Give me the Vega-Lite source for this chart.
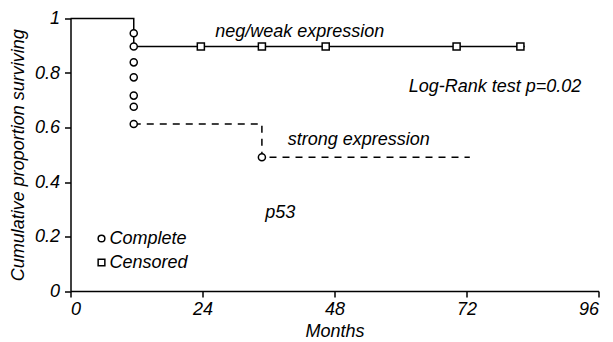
{
  "$schema": "https://vega.github.io/schema/vega-lite/v6.json",
  "width": 528,
  "height": 272.5,
  "autosize": {"type": "none"},
  "padding": {"left": 70.5, "top": 18.5, "right": 14.5, "bottom": 51},
  "background": "white",
  "config": {
    "view": {"stroke": null},
    "font": "Liberation Sans",
    "axis": {
      "grid": false,
      "domainColor": "black",
      "domainWidth": 1.5,
      "tickColor": "black",
      "tickWidth": 1.5,
      "tickSize": 6,
      "labelFont": "Liberation Sans",
      "labelFontStyle": "italic",
      "labelFontSize": 18,
      "labelColor": "black",
      "titleFont": "Liberation Sans",
      "titleFontStyle": "italic",
      "titleFontWeight": "normal",
      "titleFontSize": 18,
      "titleColor": "black"
    }
  },
  "datasets": {
    "lines": [
      {"g": "neg/weak", "s": "n1", "o": 1, "m": 0, "v": 1},
      {"g": "neg/weak", "s": "n1", "o": 2, "m": 11.5, "v": 1},
      {"g": "neg/weak", "s": "n1", "o": 3, "m": 11.5, "v": 0.897},
      {"g": "neg/weak", "s": "n1", "o": 4, "m": 82.6, "v": 0.897},
      {"g": "strong", "s": "s2", "o": 1, "m": 11.5, "v": 0.613},
      {"g": "strong", "s": "s2", "o": 2, "m": 34.8, "v": 0.613},
      {"g": "strong", "s": "s2", "o": 3, "m": 34.8, "v": 0.491},
      {"g": "strong", "s": "s2", "o": 4, "m": 72.6, "v": 0.491}
    ],
    "points": [
      {"type": "Complete", "m": 11.5, "v": 0.946},
      {"type": "Complete", "m": 11.5, "v": 0.897},
      {"type": "Complete", "m": 11.5, "v": 0.839},
      {"type": "Complete", "m": 11.5, "v": 0.784},
      {"type": "Complete", "m": 11.5, "v": 0.717},
      {"type": "Complete", "m": 11.5, "v": 0.676},
      {"type": "Complete", "m": 11.5, "v": 0.613},
      {"type": "Complete", "m": 34.8, "v": 0.491},
      {"type": "Censored", "m": 23.7, "v": 0.897},
      {"type": "Censored", "m": 34.8, "v": 0.897},
      {"type": "Censored", "m": 46.4, "v": 0.897},
      {"type": "Censored", "m": 70.2, "v": 0.897},
      {"type": "Censored", "m": 81.8, "v": 0.897}
    ],
    "labels": [
      {"label": "neg/weak expression", "m": 26.3, "v": 0.932},
      {"label": "Log-Rank test p=0.02", "m": 61.5, "v": 0.731},
      {"label": "strong expression", "m": 39.5, "v": 0.536},
      {"label": "p53", "m": 35.4, "v": 0.268}
    ]
  },
  "layer": [
    {
      "data": {"name": "lines"},
      "mark": {"type": "line", "color": "black", "strokeWidth": 1.5, "strokeCap": "butt"},
      "encoding": {
        "x": {"field": "m", "type": "quantitative", "scale": {"domain": [0, 96], "nice": false}, "axis": {"values": [0, 24, 48, 72, 96], "title": "Months", "labelPadding": 3, "titlePadding": 4}},
        "y": {"field": "v", "type": "quantitative", "scale": {"domain": [0, 1], "nice": false}, "axis": {"values": [0, 0.2, 0.4, 0.6, 0.8, 1], "format": "~g", "title": "Cumulative proportion surviving", "labelPadding": 5, "titlePadding": 7}},
        "detail": {"field": "s"},
        "order": {"field": "o"},
        "strokeDash": {"field": "g", "type": "nominal", "scale": {"domain": ["neg/weak", "strong"], "range": [[1, 0], [7, 6]]}, "legend": null}
      }
    },
    {
      "data": {"name": "points"},
      "mark": {"type": "point", "filled": false, "fill": "white", "fillOpacity": 1, "stroke": "black", "strokeWidth": 1.5, "size": 50, "opacity": 1},
      "encoding": {
        "x": {"field": "m", "type": "quantitative"},
        "y": {"field": "v", "type": "quantitative"},
        "shape": {
          "field": "type", "type": "nominal",
          "scale": {"domain": ["Complete", "Censored"], "range": ["circle", "square"]},
          "legend": {
            "title": null,
            "orient": "none",
            "legendX": 22,
            "legendY": 211,
            "padding": 0,
            "labelFont": "Liberation Sans",
            "labelFontStyle": "italic",
            "labelFontSize": 18,
            "labelColor": "black",
            "labelOffset": -1,
            "rowPadding": 6,
            "symbolSize": 45,
            "encode": {
              "symbols": {
                "update": {
                  "stroke": {"value": "black"},
                  "strokeWidth": {"value": 1.5},
                  "fill": {"value": "white"},
                  "opacity": {"value": 1},
                  "fillOpacity": {"value": 1},
                  "strokeOpacity": {"value": 1}
                }
              }
            }
          }
        }
      }
    },
    {
      "data": {"name": "labels"},
      "mark": {"type": "text", "align": "left", "baseline": "alphabetic", "font": "Liberation Sans", "fontStyle": "italic", "fontSize": 18, "color": "black"},
      "encoding": {
        "x": {"field": "m", "type": "quantitative"},
        "y": {"field": "v", "type": "quantitative"},
        "text": {"field": "label"}
      }
    }
  ]
}
